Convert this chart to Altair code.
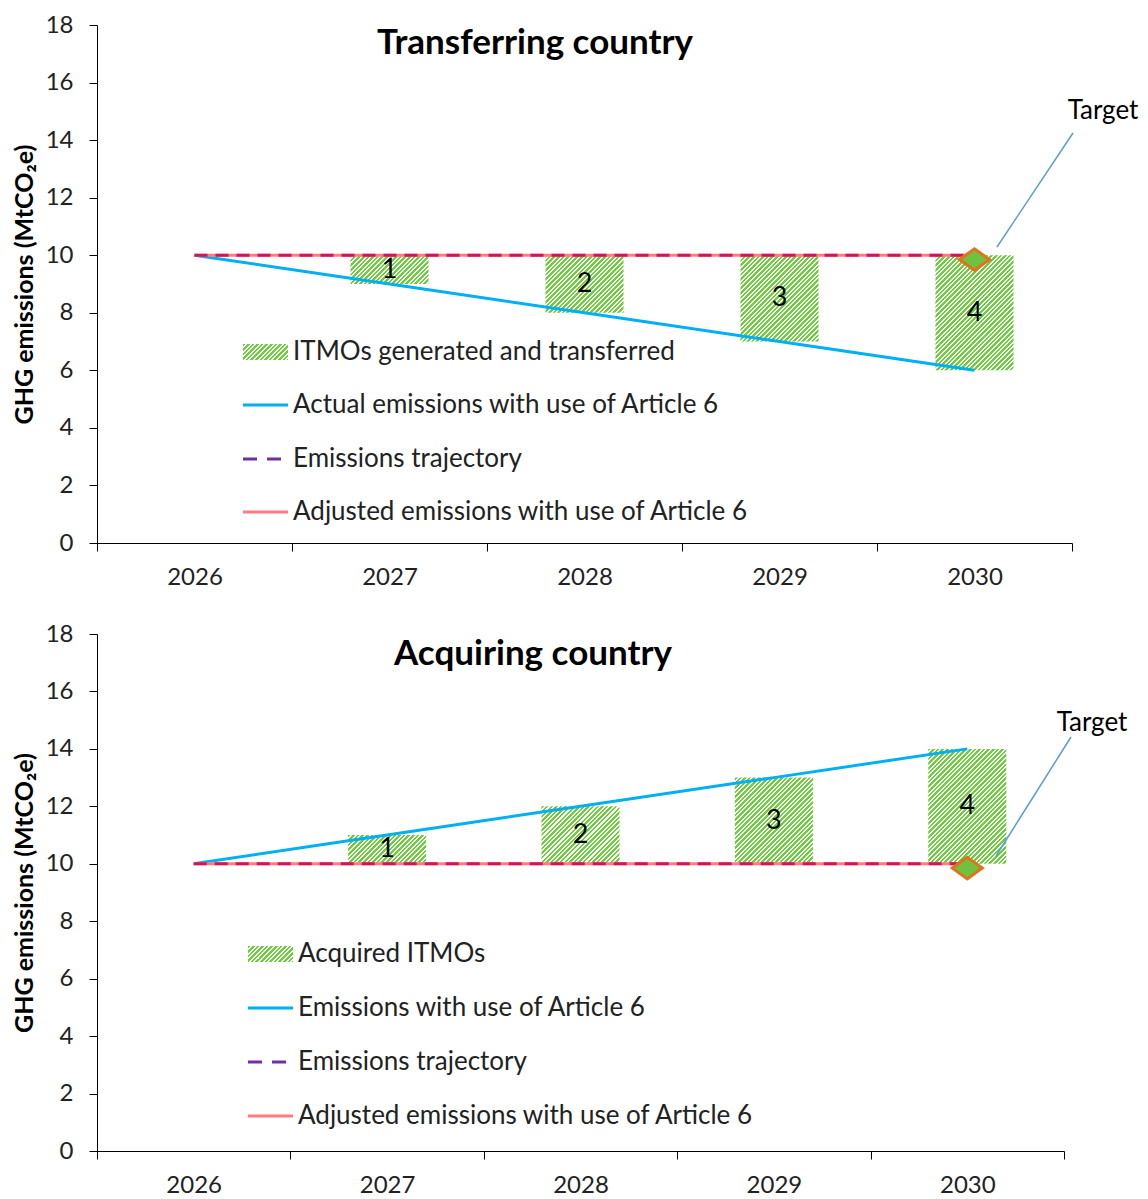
import math
import altair as alt
import pandas as pd

# ---------------- data ----------------
years = ["2026", "2027", "2028", "2029", "2030"]
trajectory = [10, 10, 10, 10, 10]
adjusted = [10, 10, 10, 10, 10]
actual_transfer = [10, 9, 8, 7, 6]
actual_acquire = [10, 11, 12, 13, 14]
itmo_years = ["2027", "2028", "2029", "2030"]
itmo_labels = ["1", "2", "3", "4"]
target_year = "2030"
target_value = 9.85
y_ticks = [0, 2, 4, 6, 8, 10, 12, 14, 16, 18]

legend_transfer = ["ITMOs generated and transferred",
                   "Actual emissions with use of Article 6",
                   "Emissions trajectory",
                   "Adjusted emissions with use of Article 6"]
legend_acquire = ["Acquired ITMOs",
                  "Emissions with use of Article 6",
                  "Emissions trajectory",
                  "Adjusted emissions with use of Article 6"]

FONT = "Lato"
GREEN = "#6ACF3A"
BLUE = "#00B0F0"
PURPLE = "#7030A0"
DASH_ON_LINE = "#D4145A"
SALMON = "#FF7C80"
BAR_W = 78


def hatch(w, h, period=4.6, color=GREEN):
    """Diagonal '////' hatch as a hard-stop linear gradient in bbox units."""
    k = (w + h) / (w * w + h * h)
    n = (w + h) / period
    stops = []
    for j in range(int(math.ceil(n))):
        a = min(j / n, 1.0)
        b = min((j + 0.55) / n, 1.0)
        c = min((j + 1) / n, 1.0)
        stops += [
            {"offset": a, "color": color},
            {"offset": b, "color": color},
            {"offset": b, "color": "white"},
            {"offset": c, "color": "white"},
        ]
    return {"gradient": "linear", "x1": 0, "y1": 0, "x2": k * w, "y2": k * h,
            "stops": stops}


def panel(actual, title, legend_labels, W, H, transfer, leg, tgt, title_xy, tpad):
    px_per_unit = H / 18.0
    xscale = alt.Scale(domain=years, paddingInner=0, paddingOuter=0)
    xaxis = alt.Axis(title=None, tickBand="extent", labelAngle=0, labelFontSize=24,
                     labelFont=FONT, labelColor="#222", tickSize=8, tickColor="black",
                     domainColor="black", labelPadding=14, grid=False)
    yscale = alt.Scale(domain=[0, 18])
    yaxis = alt.Axis(values=y_ticks, title="GHG emissions (MtCO₂e)", titleFontSize=25,
                     titleFont=FONT, titleFontWeight="bold", titleColor="black",
                     labelFontSize=24, labelFont=FONT, labelColor="#222",
                     tickSize=8, tickColor="black", domainColor="black",
                     labelPadding=16, titlePadding=tpad, grid=False)

    def X(f="year"):
        return alt.X(f + ":O", scale=xscale, axis=xaxis)

    def Y(f):
        return alt.Y(f + ":Q", scale=yscale, axis=yaxis)

    df = pd.DataFrame({"year": years, "actual": actual,
                       "traj": trajectory, "adj": adjusted})

    layers = []
    # hatched ITMO bars, one layer each (gradient depends on bar height)
    for yr, lab in zip(itmo_years, itmo_labels):
        v = actual[years.index(yr)]
        base = adjusted[years.index(yr)]
        lo, hi = (v, base) if transfer else (base, v)
        bdf = pd.DataFrame({"year": [yr], "lo": [lo], "hi": [hi],
                            "mid": [(lo + hi) / 2], "lab": [lab]})
        h = (hi - lo) * px_per_unit
        layers.append(alt.Chart(bdf).mark_bar(size=BAR_W, fill=hatch(BAR_W, h))
                      .encode(x=X(), y=Y("lo"), y2="hi:Q"))
        layers.append(alt.Chart(bdf).mark_text(fontSize=27, font=FONT, color="black")
                      .encode(x=X(), y=Y("mid"), text="lab:N"))

    layers.append(alt.Chart(df).mark_line(color=BLUE, strokeWidth=3)
                  .encode(x=X(), y=Y("actual")))
    layers.append(alt.Chart(df).mark_line(color=SALMON, strokeWidth=3)
                  .encode(x=X(), y=Y("adj")))
    layers.append(alt.Chart(df).mark_line(color=DASH_ON_LINE, strokeWidth=3,
                                          strokeDash=[13, 8])
                  .encode(x=X(), y=Y("traj")))

    tdf = pd.DataFrame({"year": [target_year], "val": [target_value]})
    # leader line + label
    (lx1, ly1, lx2, ly2, tx, ty) = tgt
    layers.append(alt.Chart(tdf).mark_rule(color="#5B9BD5", strokeWidth=1.5)
                  .encode(x=alt.value(lx1), y=alt.value(ly1),
                          x2=alt.value(lx2), y2=alt.value(ly2)))
    layers.append(alt.Chart(tdf).mark_text(fontSize=26, font=FONT, color="black")
                  .encode(x=alt.value(tx), y=alt.value(ty), text=alt.value("Target")))
    layers.append(alt.Chart(tdf).mark_point(
        shape="M-1,0L0,-0.72L1,0L0,0.72Z", size=900, filled=True, fill="#6FC23F",
        stroke="#E2731E", strokeWidth=3, opacity=1)
        .encode(x=X(), y=Y("val")))

    # legend (manual)
    sx1, sx2, tx0, rows = leg
    one = pd.DataFrame({"k": [0]})
    layers.append(alt.Chart(one).mark_rect(fill=hatch(sx2 - sx1, 16))
                  .encode(x=alt.value(sx1), x2=alt.value(sx2),
                          y=alt.value(rows[0] - 8), y2=alt.value(rows[0] + 8)))
    layers.append(alt.Chart(one).mark_rule(color=BLUE, strokeWidth=3)
                  .encode(x=alt.value(sx1), x2=alt.value(sx2), y=alt.value(rows[1])))
    layers.append(alt.Chart(one).mark_rule(color=PURPLE, strokeWidth=3, strokeDash=[14, 10])
                  .encode(x=alt.value(sx1), x2=alt.value(sx2), y=alt.value(rows[2])))
    layers.append(alt.Chart(one).mark_rule(color=SALMON, strokeWidth=3)
                  .encode(x=alt.value(sx1), x2=alt.value(sx2), y=alt.value(rows[3])))
    for lab, ry in zip(legend_labels, rows):
        layers.append(alt.Chart(one).mark_text(align="left", baseline="middle",
                                               fontSize=26, font=FONT, color="#222")
                      .encode(x=alt.value(tx0), y=alt.value(ry), text=alt.value(lab)))

    # title inside plot
    layers.append(alt.Chart(one).mark_text(fontSize=35, font=FONT, fontWeight="bold",
                                           color="black", baseline="middle")
                  .encode(x=alt.value(title_xy[0]), y=alt.value(title_xy[1]),
                          text=alt.value(title)))

    return alt.layer(*layers).properties(width=W, height=H)


top = panel(actual_transfer, "Transferring country", legend_transfer, 975, 518, True,
            (146, 191, 196, [327, 380, 434, 487]),
            (976, 108, 900, 222, 1006, 86), (438, 18), 8)
bottom = panel(actual_acquire, "Acquiring country", legend_acquire, 967, 517, False,
               (151, 196, 201, [320, 374, 428, 482]),
               (974, 103, 899, 222, 995, 89), (436, 20), 8)

chart = alt.vconcat(top, bottom, spacing=33).properties(
    padding={"left": 4, "top": 5, "right": 0, "bottom": 0}
).configure(font=FONT, view=alt.ViewConfig(stroke=None))

chart.save("out.html", embed_options={"renderer": "svg", "actions": False})
